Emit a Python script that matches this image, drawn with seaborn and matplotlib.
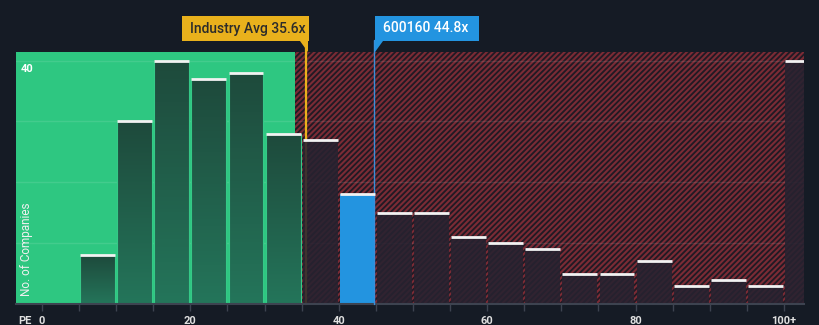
import numpy as np
import pandas as pd
import matplotlib
matplotlib.use("Agg")
import matplotlib.pyplot as plt
from matplotlib.patches import Rectangle, Polygon
import seaborn as sns

# PE distribution (bins of width 5, last bin is 100+)
bin_centers = [7.5, 12.5, 17.5, 22.5, 27.5, 32.5, 37.5, 42.5, 47.5, 52.5,
               57.5, 62.5, 67.5, 72.5, 77.5, 82.5, 87.5, 92.5, 97.5, 102.5]
company_counts = [8, 30, 40, 37, 38, 28, 27, 18, 15, 15,
                  11, 10, 9, 5, 5, 7, 3, 4, 3, 40]
tick_values = [0, 20, 40, 60, 80, 100]
tick_labels = ["0", "20", "40", "60", "80", "100+"]

industry_avg = 35.6
company_pe = 44.8
company_name = "600160"
fair_limit = 34.1

BG = "#151b25"
GREEN = "#2ec781"
BLUE = "#2394e0"
ORANGE = "#e9b11c"
HATCH_RED = "#7b2b35"

sns.set_theme(style="dark")
plt.rcParams["font.family"] = ["Roboto", "DejaVu Sans"]
plt.rcParams["hatch.linewidth"] = 1.5
plt.rcParams["hatch.color"] = HATCH_RED

W, H = 820, 325
fig = plt.figure(figsize=(W / 100, H / 100), dpi=100, facecolor=BG)
ax = fig.add_axes([16 / W, 21 / H, 788 / W, 252 / H])
ax.set_facecolor(BG)
xmin, xmax, ymax = -3.5, 102.7, 41.4
ax.set_xlim(xmin, xmax)
ax.set_ylim(0, ymax)

# background zones
ax.add_patch(Rectangle((xmin, 0), fair_limit - xmin, ymax, facecolor=GREEN,
                       edgecolor="none", zorder=0))
ax.add_patch(Rectangle((fair_limit, 0), xmax - fair_limit, ymax, facecolor="#201a24",
                       edgecolor=HATCH_RED, hatch="//////", lw=0, zorder=0))

# grid
for g in [10, 20, 30, 40]:
    ax.axhline(g, color="white", alpha=0.10, lw=1, zorder=0.5)

# marker lines (behind bars)
ax.plot([industry_avg, industry_avg], [0, ymax + 1.9], color=ORANGE, lw=1.6,
        zorder=1, clip_on=False)
ax.plot([company_pe, company_pe], [0, ymax + 1.9], color="#3a8fd9", lw=1.0,
        zorder=3.5, clip_on=False)

def zone(c):
    if c - 2.5 <= company_pe <= c + 2.5:
        return "company"
    return "below" if c < fair_limit else "above"

df = pd.DataFrame({"pe": bin_centers, "count": company_counts,
                   "zone": [zone(c) for c in bin_centers]})
palette = {"below": "#215e4b", "company": BLUE, "above": "#262230"}
sns.barplot(data=df, x="pe", y="count", hue="zone", palette=palette,
            native_scale=True, width=0.94, dodge=False, legend=False,
            saturation=1, ax=ax, zorder=2, linewidth=0)

grad = np.linspace(0, 1, 64).reshape(-1, 1)
cmap = matplotlib.colors.LinearSegmentedColormap.from_list("g", ["#1e4a3c", "#24755a"])
for p in list(ax.patches):
    if not hasattr(p, "get_height") or p.get_height() <= 0 or p.get_zorder() != 2:
        continue
    cx = p.get_x() + p.get_width() / 2
    z = zone(cx)
    if z == "below":
        p.set_facecolor("none")
        p.set_edgecolor("#35c987")
        p.set_linewidth(0.8)
        im = ax.imshow(grad, cmap=cmap, aspect="auto", zorder=1.9,
                       extent=[p.get_x(), p.get_x() + p.get_width(), 0, p.get_height()],
                       origin="upper")
        im.set_clip_path(p)
    elif z == "above":
        p.set_alpha(0.88)

ax.set_xlim(xmin, xmax)
ax.set_ylim(0, ymax)

# white caps on bars
half = 0.94 * 5 / 2
ax.hlines(company_counts, np.array(bin_centers) - half, np.array(bin_centers) + half,
          color="#f2f2f2", lw=2, zorder=4)

# axes styling
for s in ["top", "right", "left"]:
    ax.spines[s].set_visible(False)
ax.spines["bottom"].set_color("#3d4350")
ax.spines["bottom"].set_linewidth(1.5)
ax.set_xticks(tick_values)
ax.set_xticklabels(tick_labels)
ax.set_xticks(np.arange(0, 101, 5), minor=True)
ax.tick_params(axis="x", which="both", bottom=True, length=5, width=1, color="#3d4350",
               labelcolor="#e0e0e0", labelsize=8, pad=4)
for t in ax.get_xticklabels():
    t.set_fontweight("bold")
ax.set_yticks([])
ax.set_xlabel("")
ax.set_ylabel("")
ax.grid(False)

ax.text(-2.9, 39.5, "40", color="white", fontsize=8, fontweight="bold",
        ha="left", va="top", zorder=5)
fig.text(27 / W, 1 - 296 / H, "No. of Companies", rotation=90, color="#f0f0f0",
         fontsize=8.5, ha="center", va="bottom")
fig.text(18 / W, 1 - 321 / H, "PE", color="#e0e0e0", fontsize=8, ha="left",
         va="center", fontweight="bold")

# labels above the chart
def label_box(x0, x1, tip, color, text, tcolor, pointer_right):
    y0, y1 = 1 - 41 / H, 1 - 16 / H
    fig.patches.append(Rectangle((x0 / W, y0), (x1 - x0) / W, y1 - y0,
                                 transform=fig.transFigure, facecolor=color,
                                 edgecolor="none"))
    if pointer_right:
        pts = [((tip - 7) / W, y0), ((tip + 1) / W, y0), ((tip + 1) / W, 1 - 52 / H)]
    else:
        pts = [(tip / W, y0), ((tip + 8) / W, y0), (tip / W, 1 - 52 / H)]
    fig.patches.append(Polygon(pts, closed=True, transform=fig.transFigure,
                               facecolor=color, edgecolor="none"))
    fig.text((x0 + 8) / W, (y0 + y1) / 2, text, color=tcolor, fontsize=10,
             ha="left", va="center", fontweight="medium")

label_box(182, 309, 307, ORANGE, f"Industry Avg {industry_avg}x", "#2b2b2b", True)
label_box(375, 479, 375, BLUE, f"{company_name} {company_pe}x", "white", False)

fig.savefig("out.png", dpi=100, facecolor=BG)
